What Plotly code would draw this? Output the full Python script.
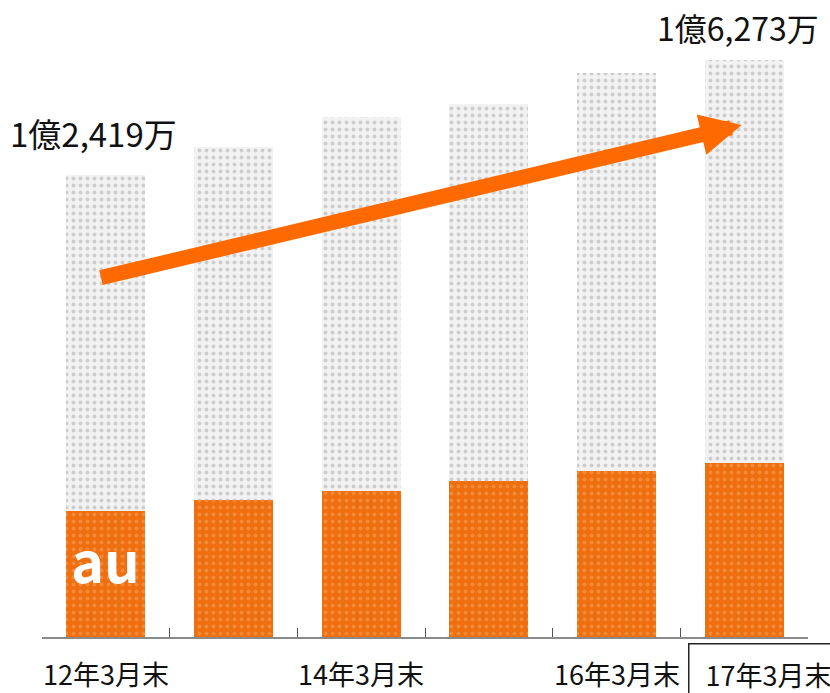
import plotly.graph_objects as go

categories = ["12年3月末", "13年3月末", "14年3月末", "15年3月末", "16年3月末", "17年3月末"]
tick_labels = ["12年3月末", "", "14年3月末", "", "16年3月末", "17年3月末"]
au_values = [3390, 3680, 3930, 4190, 4460, 4680]
total_values = [12419, 13170, 13980, 14330, 15160, 15510]
other_values = [t - a for t, a in zip(total_values, au_values)]
first_label = "1億2,419万"
last_label = "1億6,273万"

xs = list(range(len(categories)))
FONT = "Noto Sans CJK JP"

fig = go.Figure()
fig.add_trace(go.Bar(
    x=xs, y=au_values, width=0.62, name="au",
    marker=dict(color="#f07012", line=dict(width=0),
                pattern=dict(shape=".", fgcolor="#f8a55a", bgcolor="#ee6e10", size=7, solidity=0.25)),
))
fig.add_trace(go.Bar(
    x=xs, y=other_values, width=0.62, name="other",
    marker=dict(color="#ececec", line=dict(width=0),
                pattern=dict(shape=".", fgcolor="#a8a8a8", bgcolor="#f2f2f2", size=7, solidity=0.25)),
))

ann = []
# category labels
for i, lab in enumerate(tick_labels[:-1]):
    if lab:
        ann.append(dict(x=i, y=-0.058, xref="x", yref="paper", text=lab, showarrow=False,
                        font=dict(family=FONT, size=27, color="#111"), yanchor="middle"))
ann.append(dict(x=(688 - 42) / 766, y=-0.058, xref="paper", yref="paper",
                text="&nbsp;" + tick_labels[-1],
                showarrow=False, xanchor="left", yanchor="middle",
                font=dict(family=FONT, size=27, color="#111"),
                bordercolor="#222", borderwidth=1.5, borderpad=10))
# value labels
ann.append(dict(x=-0.093, y=13548, xref="x", yref="y", text=first_label, showarrow=False,
                yanchor="middle", font=dict(family=FONT, size=33, color="#111")))
ann.append(dict(x=4.955, y=16400, xref="x", yref="y", text=last_label, showarrow=False,
                yanchor="middle", font=dict(family=FONT, size=32, color="#111")))
# au label
ann.append(dict(x=0, y=2100, xref="x", yref="y", text="<b>au</b>", showarrow=False,
                font=dict(family=FONT, size=56, color="white")))
# growth arrow
ann.append(dict(x=4.98, y=13760, ax=-0.05, ay=9650, xref="x", yref="y", axref="x", ayref="y",
                text="", showarrow=True, arrowhead=2, arrowsize=0.55, arrowwidth=15,
                arrowcolor="#ff6a00", standoff=0))

fig.update_layout(
    barmode="stack", width=830, height=693,
    margin=dict(l=42, r=22, t=0, b=56, autoexpand=False),
    paper_bgcolor="white", plot_bgcolor="white", showlegend=False,
    bargap=0,
    xaxis=dict(range=[-0.5, 5.5], tickvals=[i - 0.5 for i in range(len(categories) + 1)],
               ticktext=[""] * (len(categories) + 1), ticks="inside", ticklen=9, tickcolor="#555",
               tickwidth=1, showgrid=False, zeroline=False, showline=True, linecolor="#8a8a8a",
               linewidth=2),
    yaxis=dict(range=[0, 17123], visible=False, showgrid=False),
    annotations=ann,
)
fig.write_html("out.html", config={"displayModeBar": False},
               post_script="document.body.style.margin='0';document.body.style.overflow='hidden';")
